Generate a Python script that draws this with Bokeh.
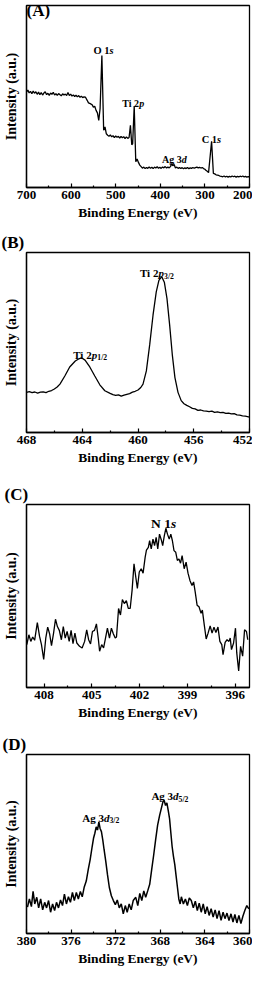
from bokeh.plotting import figure
from bokeh.models import Range1d, FixedTicker, Label
from bokeh.layouts import column
from bokeh.embed import file_html
from bokeh.resources import INLINE

FONT = "Liberation Serif"

# ---------------- Panel A: survey ----------------
a_ev = [700, 697, 694, 691, 688, 685, 682, 679, 676, 673, 670, 667, 664, 661, 658, 655,
        652, 649, 646, 643, 640, 637, 634, 631, 628, 625, 622, 619, 616, 613, 610, 607,
        604, 601, 598, 595, 592, 589, 586, 583, 580, 577, 574, 571, 568, 564, 561, 557,
        553, 550, 547, 544, 541, 538, 535, 531, 527, 524, 521, 518, 515, 512, 509, 506,
        503, 500, 497, 494, 491, 488, 485, 482, 479, 476, 473, 470, 467, 464, 462, 458.5,
        455, 452, 449, 446, 443, 440, 437, 434, 431, 428, 425, 422, 419, 416, 413, 410,
        407, 404, 401, 398, 395, 392, 389, 386, 383, 380, 377, 374, 372, 369, 366, 363,
        360, 357, 354, 351, 348, 345, 342, 339, 336, 333, 330, 327, 324, 321, 318, 315,
        312, 309, 306, 303, 300, 297.8, 294, 291.8, 285, 281, 278, 275, 272, 269, 266, 263,
        260, 257, 254, 251, 248, 245, 242, 239, 236, 233, 230, 227, 224, 221, 218, 215,
        212, 209, 206, 203, 200]
a_int = [52.5, 53.5, 52.0, 52.8, 51.5, 53.0, 51.8, 52.6, 51.2, 52.4, 51.0, 52.2, 50.8, 51.9, 52.6, 51.0,
         51.8, 50.6, 51.9, 51.2, 52.3, 50.8, 51.5, 50.6, 51.6, 51.0, 50.4, 51.5, 50.8, 51.3, 50.5, 52.2,
         50.6, 51.3, 50.2, 50.9, 50.0, 50.7, 49.8, 50.5, 49.6, 50.2, 49.4, 49.8, 49.7, 47.9, 46.5, 46.1,
         45.5, 44.2, 44.6, 42.4, 41.0, 36.9, 43.3, 72.5, 31.4, 33.3, 29.5, 28.7, 28.2, 28.9, 27.8, 28.5,
         27.4, 28.3, 27.6, 28.1, 27.2, 28.0, 27.3, 27.9, 26.9, 27.8, 27.0, 27.5, 34.2, 23.5, 24.0, 44.8,
         14.1, 15.6, 13.8, 12.3, 11.5, 10.6, 11.2, 10.4, 11.0, 10.5, 11.3, 10.6, 11.1, 10.4, 11.2, 10.7,
         11.4, 10.6, 11.1, 10.5, 11.3, 10.8, 11.5, 10.7, 11.2, 10.8, 11.6, 13.2, 12.0, 12.6, 10.7, 11.2,
         10.5, 11.0, 10.4, 10.9, 10.3, 10.8, 10.4, 11.0, 10.3, 10.8, 10.5, 11.0, 10.6, 10.9, 11.2, 10.8,
         11.1, 10.7, 11.0, 10.4, 10.0, 9.5, 8.8, 8.2, 25.4, 7.7, 7.5, 7.0, 6.8, 6.6, 6.3, 6.1,
         5.9, 6.3, 5.8, 6.2, 5.7, 6.1, 5.8, 6.3, 5.9, 6.2, 5.7, 6.1, 5.8, 6.2, 5.9, 6.3,
         5.8, 6.1, 5.7, 6.0, 5.9]
a_ticks = [700, 600, 500, 400, 300, 200]
a_minor = [650, 550, 450, 350, 250]

# ---------------- Panel B: Ti 2p ----------------
b_ev = [468.0, 467.8, 467.6, 467.4, 467.2, 467.0, 466.8, 466.6, 466.4, 466.2, 466.0, 465.8,
        465.6, 465.25, 464.9, 464.5, 464.2, 464.06, 463.8, 463.46, 463.1, 462.74, 462.38,
        462.0, 461.8, 461.6, 461.4, 461.2, 461.0, 460.8, 460.6, 460.4, 460.2, 460.0, 459.8,
        459.64, 459.4, 459.16, 458.92, 458.69, 458.5, 458.3, 458.11, 457.92, 457.73, 457.54,
        457.35, 457.13, 456.9, 456.7, 456.5, 456.3, 456.1, 455.9, 455.7, 455.5, 455.3, 455.1,
        454.9, 454.7, 454.5, 454.3, 454.1, 453.9, 453.7, 453.5, 453.3, 453.1, 452.9, 452.7,
        452.5, 452.3, 452.0]
b_int = [22.3, 22.7, 22.1, 22.5, 21.9, 22.4, 22.6, 22.2, 22.9, 23.3, 24.2, 25.3,
         26.9, 31.4, 36.4, 39.7, 41.1, 41.5, 40.2, 36.4, 31.4, 26.5, 23.2,
         21.7, 21.0, 20.6, 20.9, 20.2, 20.8, 21.2, 21.6, 22.4, 22.9, 23.6, 25.0,
         26.9, 34.2, 48.8, 65.3, 78.1, 84.5, 86.6, 83.5, 74.4, 59.8, 43.3,
         30.5, 22.3, 17.7, 16.0, 15.1, 14.3, 13.4, 13.1, 12.3, 12.5, 12.0, 11.9,
         11.6, 11.9, 11.2, 11.4, 11.0, 11.2, 10.6, 10.8, 10.3, 10.5, 9.8, 9.6,
         9.2, 9.1, 8.6]
b_ticks = [468, 464, 460, 456, 452]
b_minor = [466, 462, 458, 454]

# ---------------- Panel C: N 1s ----------------
c_ev = [409.08, 408.95, 408.83, 408.71, 408.59, 408.42, 408.28, 408.16, 408.02, 407.89,
        407.77, 407.65, 407.53, 407.40, 407.28, 407.16, 407.04, 406.91, 406.79, 406.67,
        406.55, 406.42, 406.30, 406.18, 406.06, 405.94, 405.77, 405.61, 405.45, 405.32,
        405.20, 405.08, 404.96, 404.83, 404.71, 404.59, 404.51, 404.38, 404.26, 404.14,
        404.02, 403.89, 403.77, 403.65, 403.53, 403.45, 403.32, 403.20, 403.08, 402.96,
        402.83, 402.71, 402.59, 402.47, 402.35, 402.24, 402.14, 402.02, 401.90, 401.78,
        401.65, 401.57, 401.45, 401.37, 401.27, 401.16, 401.06, 400.96, 400.86, 400.75,
        400.63, 400.55, 400.45, 400.35, 400.25, 400.14, 400.04, 399.94, 399.84, 399.73,
        399.63, 399.53, 399.43, 399.33, 399.20, 399.08, 398.96, 398.84, 398.71, 398.61,
        398.51, 398.39, 398.27, 398.14, 398.06, 397.94, 397.82, 397.70, 397.57, 397.45,
        397.33, 397.21, 397.08, 396.96, 396.84, 396.76, 396.63, 396.51, 396.39, 396.31,
        396.23, 396.10, 395.98, 395.90, 395.78, 395.66, 395.53, 395.41, 395.29, 395.21]
c_int = [23.4, 28.8, 25.2, 27.6, 25.8, 35.5, 27.9, 23.4, 15.3, 27.0,
         33.0, 29.4, 22.9, 29.7, 37.3, 33.3, 31.2, 26.1, 33.3, 27.0,
         30.6, 25.2, 31.2, 24.0, 29.7, 24.3, 22.5, 21.6, 25.2, 31.5,
         26.1, 23.8, 30.6, 31.2, 34.8, 26.5, 19.8, 23.4, 21.6, 27.0,
         32.4, 27.0, 32.4, 29.4, 27.0, 27.6, 43.2, 39.6, 48.1, 45.9,
         47.4, 43.2, 43.2, 53.2, 67.6, 60.4, 54.1, 63.1, 64.9, 62.5,
         71.2, 75.1, 76.6, 80.2, 75.7, 81.1, 77.5, 82.0, 75.7, 83.8,
         80.5, 77.5, 82.9, 87.0, 83.8, 81.1, 83.8, 80.2, 74.8, 73.9,
         69.4, 70.3, 67.9, 72.1, 64.9, 68.5, 62.5, 58.5, 55.8, 57.7,
         52.3, 45.0, 44.1, 40.5, 42.3, 34.2, 26.5, 29.7, 33.7, 29.7,
         33.0, 30.1, 33.0, 25.2, 23.4, 18.0, 24.7, 26.1, 25.2, 27.0,
         20.7, 24.3, 32.4, 18.9, 9.0, 22.5, 17.1, 31.5, 30.6, 26.1]
c_ticks = [408, 405, 402, 399, 396]
c_minor = [406.5, 403.5, 400.5, 397.5]

# ---------------- Panel D: Ag 3d ----------------
d_ev = [379.91, 379.74, 379.56, 379.41, 379.26, 379.08, 378.91, 378.73, 378.55, 378.37,
        378.20, 378.02, 377.84, 377.66, 377.48, 377.31, 377.13, 376.95, 376.77, 376.60,
        376.42, 376.24, 376.06, 375.88, 375.71, 375.53, 375.35, 375.17, 375.00, 374.82,
        374.64, 374.46, 374.29, 374.11, 373.99, 373.87, 373.75, 373.63, 373.51, 373.40,
        373.28, 373.16, 373.04, 372.89, 372.74, 372.57, 372.39, 372.21, 372.03, 371.86,
        371.68, 371.50, 371.32, 371.14, 370.97, 370.79, 370.61, 370.43, 370.20, 370.02,
        369.84, 369.66, 369.48, 369.31, 369.13, 368.95, 368.77, 368.59, 368.42, 368.24,
        368.06, 367.88, 367.77, 367.65, 367.53, 367.41, 367.29, 367.17, 367.05, 366.94,
        366.82, 366.70, 366.58, 366.46, 366.34, 366.22, 366.11, 365.93, 365.75, 365.57,
        365.40, 365.22, 365.04, 364.86, 364.68, 364.51, 364.33, 364.15, 363.97, 363.80,
        363.62, 363.44, 363.26, 363.08, 362.91, 362.73, 362.55, 362.37, 362.20, 362.02,
        361.84, 361.66, 361.48, 361.31, 361.13, 360.95, 360.77, 360.60, 360.42, 360.24,
        360.06]
d_int = [14.7, 19.3, 15.0, 23.5, 16.5, 20.2, 14.3, 19.3, 13.2, 17.4,
         14.3, 18.4, 11.9, 16.5, 12.8, 17.4, 14.3, 18.7, 15.6, 22.0,
         16.5, 20.5, 17.4, 22.9, 18.4, 22.9, 19.3, 23.5, 20.5, 26.0,
         29.3, 35.8, 41.3, 48.6, 53.2, 56.0, 59.6, 57.8, 62.4, 58.7,
         56.9, 52.3, 46.8, 40.3, 33.0, 25.7, 21.1, 18.4, 16.1, 18.7,
         14.3, 16.5, 11.0, 15.6, 11.9, 16.5, 13.2, 18.4, 20.2, 15.6,
         22.4, 18.4, 23.8, 20.2, 23.8, 27.5, 35.8, 44.0, 52.3, 60.5,
         66.0, 70.6, 73.4, 74.3, 71.5, 73.0, 68.8, 64.2, 56.0, 48.6,
         43.1, 38.5, 32.1, 25.7, 19.3, 16.5, 20.5, 16.5, 19.3, 15.6,
         19.8, 18.4, 14.3, 18.0, 12.8, 16.9, 11.9, 16.5, 11.0, 15.0,
         10.1, 13.8, 9.2, 13.2, 8.3, 12.8, 7.3, 11.9, 8.3, 11.4,
         7.3, 11.0, 6.4, 10.6, 5.9, 10.1, 5.5, 9.5, 12.8, 15.6,
         13.8]
d_ticks = [380, 376, 372, 368, 364, 360]
d_minor = [378, 374, 370, 366, 362]

# glyph advance widths (em) of the Times-metric serif, bold / bold italic
W = {" ": 0.25, "(": 0.333, ")": 0.333, "/": 0.278, "1": 0.5, "2": 0.5, "3": 0.5, "5": 0.5,
     "A": 0.722, "C": 0.722, "N": 0.722, "O": 0.778, "T": 0.667, "g": 0.5, "i": 0.278,
     "p": 0.5, "s": 0.389, "d": 0.5}


def rich_label(p, x, y, pieces, size):
    off = 0.0
    for text, style, scale, dy in pieces:
        fs = size * scale
        p.add_layout(Label(x=x, y=y, x_offset=off, y_offset=dy, text=text,
                           text_font=FONT, text_font_style=style,
                           text_font_size=f"{fs:.1f}px", text_color="black",
                           text_baseline="alphabetic", text_align="left"))
        off += sum(W.get(ch, 0.5) for ch in text) * fs


def make_panel(h, top, bottom, left, right, xr, ticks, minor, xs, ys, lw=1.3):
    p = figure(width=252, height=h, x_range=Range1d(*xr), y_range=Range1d(0, 100),
               output_backend="svg", toolbar_location=None,
               min_border_top=top, min_border_bottom=bottom,
               min_border_left=left, min_border_right=right)
    p.grid.visible = False
    p.background_fill_color = "white"
    p.border_fill_color = "white"
    p.outline_line_color = "black"
    p.outline_line_width = 1.3
    p.outline_line_alpha = 1.0

    ax = p.xaxis[0]
    ax.ticker = FixedTicker(ticks=ticks, minor_ticks=minor)
    ax.major_tick_in = 4
    ax.major_tick_out = 0
    ax.minor_tick_in = 2
    ax.minor_tick_out = 0
    ax.axis_line_width = 1.3
    ax.major_tick_line_width = 1.2
    ax.minor_tick_line_width = 1.2
    ax.major_label_standoff = 3
    ax.major_label_text_font = FONT
    ax.major_label_text_font_style = "bold"
    ax.major_label_text_font_size = "13px"
    ax.major_label_text_color = "black"
    ax.axis_label = "Binding Energy (eV)"
    ax.axis_label_text_font = FONT
    ax.axis_label_text_font_style = "bold"
    ax.axis_label_text_font_size = "13.5px"
    ax.axis_label_text_color = "black"
    ax.axis_label_standoff = 3

    ay = p.yaxis[0]
    ay.ticker = FixedTicker(ticks=[], minor_ticks=[])
    ay.major_tick_line_color = None
    ay.minor_tick_line_color = None
    ay.axis_line_width = 1.3
    ay.axis_label = "Intensity (a.u.)"
    ay.axis_label_text_font = FONT
    ay.axis_label_text_font_style = "bold"
    ay.axis_label_text_font_size = "14px"
    ay.axis_label_text_color = "black"
    ay.axis_label_standoff = 8

    p.line(xs, ys, line_color="black", line_width=lw)
    return p


def set_tag(p, tag, left, standoff):
    p.title.text = tag
    p.title.align = "left"
    p.title.offset = -left
    p.title.standoff = standoff
    p.title.text_font = FONT
    p.title.text_font_style = "bold"
    p.title.text_font_size = "17px"
    p.title.text_color = "black"


pa = make_panel(230, 5, 43, 24, 3, (700, 200), a_ticks, a_minor, a_ev, a_int)
pa.add_layout(Label(x=0, y=182 + 5, x_units="screen", y_units="screen", text="(A)",
                    text_baseline="top", text_font=FONT, text_font_style="bold",
                    text_font_size="17px", text_color="black", text_align="left"))
rich_label(pa, 549.6, 75.3, [("O 1", "bold", 1, 0), ("s", "bold italic", 1, 0)], 10.5)
rich_label(pa, 485.1, 46.3, [("Ti 2", "bold", 1, 0), ("p", "bold italic", 1, 0)], 10)
rich_label(pa, 396.2, 15.5, [("Ag 3", "bold", 1, 0), ("d", "bold italic", 1, 0)], 10)
rich_label(pa, 307.3, 26.6, [("C 1", "bold", 1, 0), ("s", "bold italic", 1, 0)], 10.5)

pb = make_panel(251, 20, 49, 25, 3, (468, 452), b_ticks, b_minor, b_ev, b_int)
set_tag(pb, "(B)", 25, 1)
rich_label(pb, 464.65, 43.3, [("Ti 2", "bold", 1, 0), ("p", "bold italic", 1, 0),
                              ("1/2", "bold", 0.7, -3)], 11)
rich_label(pb, 459.86, 88.5, [("Ti 2", "bold", 1, 0), ("p", "bold italic", 1, 0),
                              ("3/2", "bold", 0.7, -3)], 11)

pc = make_panel(250, 21, 44, 22, 1, (409.1, 395.1), c_ticks, c_minor, c_ev, c_int)
set_tag(pc, "(C)", 22, 2)
rich_label(pc, 401.28, 89.7, [("N 1", "bold", 1, 0), ("s", "bold italic", 1, 0)], 13.5)

pd = make_panel(237, 21, 34, 24, 3, (380, 360), d_ticks, d_minor, d_ev, d_int, lw=1.5)
set_tag(pd, "(D)", 24, 2)
rich_label(pd, 375.0, 64.6, [("Ag 3", "bold", 1, 0), ("d", "bold italic", 1, 0),
                             ("3/2", "bold", 0.7, -3)], 11)
rich_label(pd, 368.8, 76.7, [("Ag 3", "bold", 1, 0), ("d", "bold italic", 1, 0),
                             ("5/2", "bold", 0.7, -3)], 11)

layout = column(pa, pb, pc, pd, spacing=0)
open("out.html", "w").write(file_html(layout, INLINE))
